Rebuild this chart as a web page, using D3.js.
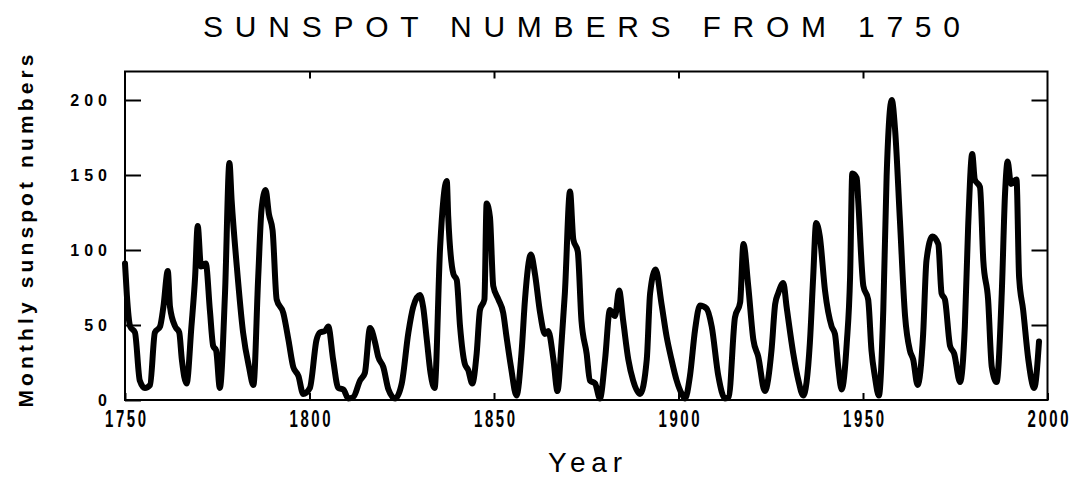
<!DOCTYPE html>
<html>
<head>
<meta charset="utf-8">
<script src="https://cdnjs.cloudflare.com/ajax/libs/d3/7.8.5/d3.min.js"></script>
<style>
  body { margin: 0; background: #fff; }
  .tick text { fill: #000; }
  .tick line { stroke: #000; stroke-width: 2; }
</style>
</head>
<body>
<div id="chart"></div>
<script>
// year (decimal) and monthly sunspot number
var years = [1750.0, 1750.5, 1751.4, 1752.7, 1754.0, 1755.4, 1756.8, 1758.1, 1759.5, 1760.4,
  1761.6, 1762.2, 1763.6, 1764.7, 1765.4, 1766.7, 1768.0, 1769.0, 1769.7, 1770.6,
  1771.9, 1773.0, 1773.9, 1774.7, 1775.7, 1777.1, 1778.3, 1778.9, 1780.3, 1782.0,
  1783.6, 1784.8, 1786.1, 1787.0, 1788.1, 1789.0, 1790.0, 1791.1, 1792.9, 1794.3,
  1795.6, 1797.0, 1798.3, 1800.1, 1801.9, 1802.8, 1804.2, 1805.1, 1806.4, 1807.8,
  1809.2, 1810.5, 1811.9, 1813.7, 1815.0, 1816.4, 1817.8, 1818.6, 1820.0, 1821.4,
  1823.2, 1825.0, 1826.8, 1828.1, 1829.9, 1830.8, 1831.8, 1832.8, 1833.9, 1835.4,
  1837.2, 1837.6, 1839.0, 1839.9, 1840.8, 1842.1, 1843.0, 1844.1, 1845.3, 1846.2,
  1847.4, 1848.0, 1848.9, 1849.8, 1851.2, 1852.5, 1853.4, 1854.6, 1856.1, 1857.5,
  1858.4, 1860.0, 1861.1, 1862.5, 1863.8, 1864.7, 1866.1, 1867.2, 1868.3, 1869.2,
  1870.6, 1871.5, 1872.7, 1873.7, 1875.1, 1876.0, 1877.4, 1878.7, 1880.1, 1881.4,
  1882.8, 1883.9, 1885.0, 1886.4, 1887.7, 1889.6, 1891.4, 1892.3, 1893.8, 1895.4,
  1896.8, 1898.1, 1899.5, 1900.9, 1901.8, 1903.1, 1904.5, 1905.8, 1907.6, 1909.0,
  1910.8, 1912.6, 1913.6, 1915.3, 1916.7, 1917.6, 1918.9, 1920.3, 1921.6, 1923.4,
  1925.2, 1926.2, 1927.0, 1928.4, 1929.3, 1931.1, 1932.5, 1933.8, 1935.6, 1936.5,
  1937.3, 1938.3, 1939.7, 1941.5, 1942.4, 1943.3, 1944.2, 1945.6, 1946.5, 1947.1,
  1948.3, 1948.7, 1950.1, 1951.4, 1952.3, 1953.2, 1954.3, 1955.5, 1956.4, 1957.8,
  1958.7, 1960.0, 1961.4, 1962.7, 1963.6, 1964.8, 1966.3, 1967.2, 1968.8, 1970.4,
  1971.3, 1972.2, 1973.6, 1974.7, 1976.3, 1977.6, 1978.5, 1979.6, 1980.3, 1981.7,
  1982.6, 1983.9, 1984.9, 1986.2, 1987.6, 1988.5, 1989.2, 1990.1, 1991.6, 1992.3,
  1993.4, 1994.8, 1996.4, 1997.7];
var sunspots = [91, 70, 49, 45, 13, 8, 10, 45, 49, 62,
  86, 62, 49, 45, 27, 11, 49, 82, 116, 89,
  91, 60, 36, 33, 8, 71, 158, 133, 89, 45,
  22, 10, 82, 127, 140, 124, 113, 67, 58, 40,
  22, 16, 4, 8, 40, 45, 46, 49, 27, 8,
  7, 1, 2, 13, 18, 48, 38, 29, 22, 7,
  1, 11, 45, 62, 70, 62, 40, 18, 8, 102,
  146, 122, 84, 80, 49, 24, 20, 11, 31, 60,
  67, 131, 122, 76, 67, 58, 42, 22, 3, 33,
  67, 97, 84, 58, 44, 46, 27, 6, 38, 71,
  139, 107, 99, 53, 31, 13, 11, 1, 27, 60,
  56, 73, 53, 27, 13, 4, 27, 71, 87, 64,
  42, 27, 13, 4, 1, 16, 47, 63, 61, 49,
  16, 1, 2, 55, 65, 104, 76, 40, 29, 6,
  33, 64, 71, 78, 62, 31, 13, 3, 38, 82,
  118, 109, 73, 49, 44, 22, 7, 38, 82, 151,
  148, 133, 76, 67, 33, 16, 3, 60, 149, 200,
  180, 120, 56, 33, 27, 10, 44, 93, 109, 104,
  71, 67, 36, 31, 12, 49, 116, 164, 147, 142,
  93, 67, 22, 12, 71, 138, 159, 144, 147, 82,
  60, 27, 8, 39];

var xTicks = [1750, 1800, 1850, 1900, 1950, 2000];
var yTicks = [0, 50, 100, 150, 200];

var svgWidth = 1077;
var svgHeight = 477;
var margin = {top: 71.5, right: 29.5, bottom: 77, left: 125};
var width = svgWidth - margin.left - margin.right;
var height = svgHeight - margin.top - margin.bottom;

var svg = d3.select("#chart").append("svg")
  .attr("width", svgWidth)
  .attr("height", svgHeight)
  .style("font-family", "Arial, 'Liberation Sans', sans-serif");

var chartGroup = svg.append("g").attr("transform", `translate(${margin.left}, ${margin.top})`);

var xScale = d3.scaleLinear().domain([1750, 2000]).range([0, width]);
var yScale = d3.scaleLinear().domain([0, 219]).range([height, 0]);

// axes, ticks point inward on all four sides
var bottomAxis = d3.axisBottom(xScale).tickValues(xTicks).tickFormat(d3.format("d")).tickSize(-7).tickPadding(11);
var topAxis = d3.axisTop(xScale).tickValues(xTicks.slice(1, -1)).tickFormat("").tickSize(-7);
var leftAxis = d3.axisLeft(yScale).tickValues(yTicks).tickSize(-16).tickPadding(13);
var rightAxis = d3.axisRight(yScale).tickValues(yTicks.slice(1)).tickFormat("").tickSize(-16);

var gx = chartGroup.append("g").attr("transform", `translate(0, ${height})`).call(bottomAxis);
chartGroup.append("g").call(topAxis);
var gy = chartGroup.append("g").call(leftAxis);
chartGroup.append("g").attr("transform", `translate(${width}, 0)`).call(rightAxis);
chartGroup.selectAll(".domain").remove();

// year labels are tall and narrow in the original -> squeeze them sideways
gx.selectAll("text")
  .style("font-weight", "bold")
  .style("font-size", "23px")
  .style("letter-spacing", "4px")
  .attr("dx", "2px")
  .attr("transform", "scale(0.65,1)");
gy.selectAll("text")
  .style("font-weight", "bold")
  .style("font-size", "16px")
  .style("letter-spacing", "5px");

// frame
chartGroup.append("rect")
  .attr("width", width)
  .attr("height", height)
  .attr("fill", "none")
  .attr("stroke", "#000")
  .attr("stroke-width", 2);

// sunspot line
var line = d3.line()
  .x(function(d, i) { return xScale(years[i]); })
  .y(function(d) { return yScale(d); })
  .curve(d3.curveMonotoneX);

chartGroup.append("path")
  .datum(sunspots)
  .attr("d", line)
  .attr("fill", "none")
  .attr("stroke", "#000")
  .attr("stroke-width", 6)
  .attr("stroke-linejoin", "round")
  .attr("stroke-linecap", "round");

// title and axis labels
svg.append("text")
  .attr("x", 581.5)
  .attr("y", 37)
  .attr("text-anchor", "middle")
  .attr("textLength", 757)
  .attr("lengthAdjust", "spacing")
  .style("font-size", "30px")
  .text("SUNSPOT NUMBERS FROM 1750");

svg.append("text")
  .attr("x", 585)
  .attr("y", 472)
  .attr("text-anchor", "middle")
  .attr("textLength", 74)
  .attr("lengthAdjust", "spacing")
  .style("font-size", "28px")
  .text("Year");

svg.append("text")
  .attr("transform", "rotate(-90)")
  .attr("x", -231)
  .attr("y", 33)
  .attr("text-anchor", "middle")
  .attr("textLength", 353)
  .attr("lengthAdjust", "spacing")
  .style("font-size", "21px")
  .style("font-weight", "bold")
  .text("Monthly sunspot numbers");
</script>
</body>
</html>
